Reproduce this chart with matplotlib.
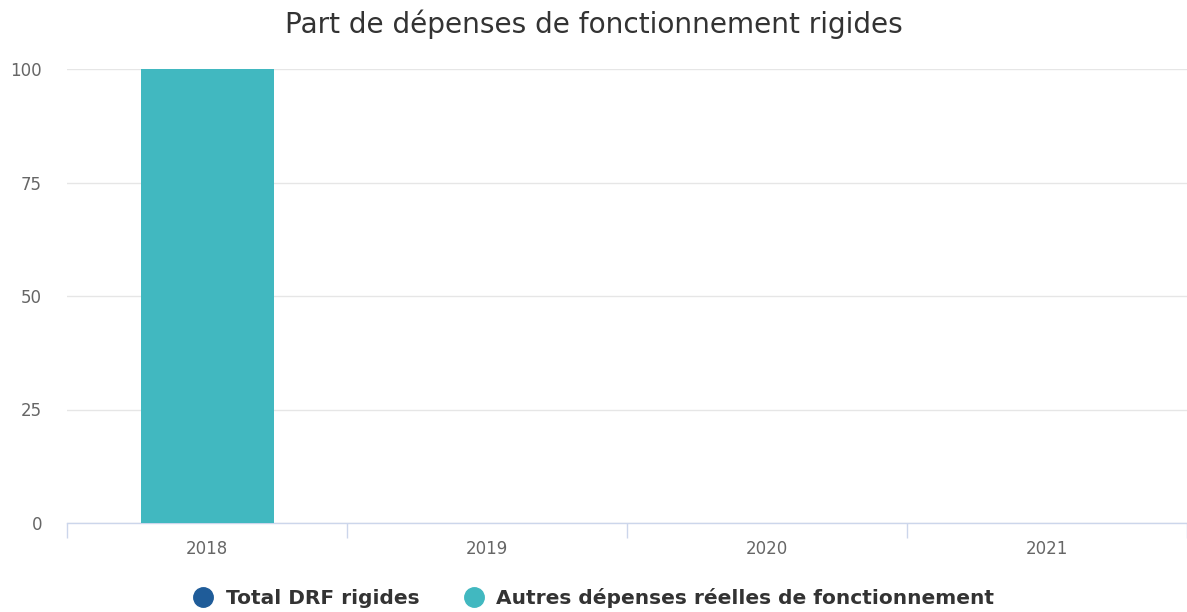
import matplotlib
matplotlib.use("Agg")
import matplotlib.pyplot as plt
from matplotlib.lines import Line2D
import numpy as np

years = ["2018", "2019", "2020", "2021"]
total_drf_rigides = [0, 0, 0, 0]
autres_depenses = [100, 0, 0, 0]
series_names = ["Total DRF rigides", "Autres dépenses réelles de fonctionnement"]
colors = ["#1f5c99", "#41b8c0"]
yticks = [0, 25, 50, 75, 100]

plt.rcParams['font.family'] = ['DejaVu Sans']
fig = plt.figure(figsize=(11.87, 6.12), dpi=100)
W, H = 1187, 612
ax = fig.add_axes([67 / W, 1 - 523 / H, (1187 - 67) / W, (523 - 69) / H])

x = np.arange(len(years))
bw = 0.475
ax.bar(x, autres_depenses, bw, bottom=total_drf_rigides, color=colors[1], zorder=3)
ax.bar(x, total_drf_rigides, bw, color=colors[0], zorder=3)

ax.set_xlim(-0.5, len(years) - 0.5)
ax.set_ylim(0, 100)
ax.set_yticks(yticks)
ax.set_yticklabels([str(v) for v in yticks], color="#666666", fontsize=12)
ax.yaxis.grid(True, color="#e6e6e6", linewidth=1, zorder=0)
ax.tick_params(axis="y", length=0, pad=18)

ax.set_xticks(x)
ax.set_xticklabels(years, color="#666666", fontsize=12)
ax.tick_params(axis="x", length=0, pad=12)
ax.set_xticks(np.arange(len(years) + 1) - 0.5, minor=True)
ax.tick_params(axis="x", which="minor", length=11, color="#ccd6eb", width=1)

for s in ["top", "right", "left"]:
    ax.spines[s].set_visible(False)
ax.spines["bottom"].set_color("#ccd6eb")
ax.spines["bottom"].set_linewidth(1)

fig.text(0.5, 1 - 24 / H, "Part de dépenses de fonctionnement rigides",
         ha="center", va="center", fontsize=20.2, color="#333333")

handles = [Line2D([0], [0], marker="o", linestyle="", markersize=14,
                  markerfacecolor=c, markeredgecolor=c) for c in colors]
leg = fig.legend(handles, series_names, loc="center", bbox_to_anchor=(0.5, 1 - 598 / H),
                 ncol=2, frameon=False, prop={"weight": "bold", "size": 14.5},
                 handletextpad=0.6, columnspacing=2.2, handlelength=1.0)
for t in leg.get_texts():
    t.set_color("#333333")

fig.savefig("out.png", dpi=100)
